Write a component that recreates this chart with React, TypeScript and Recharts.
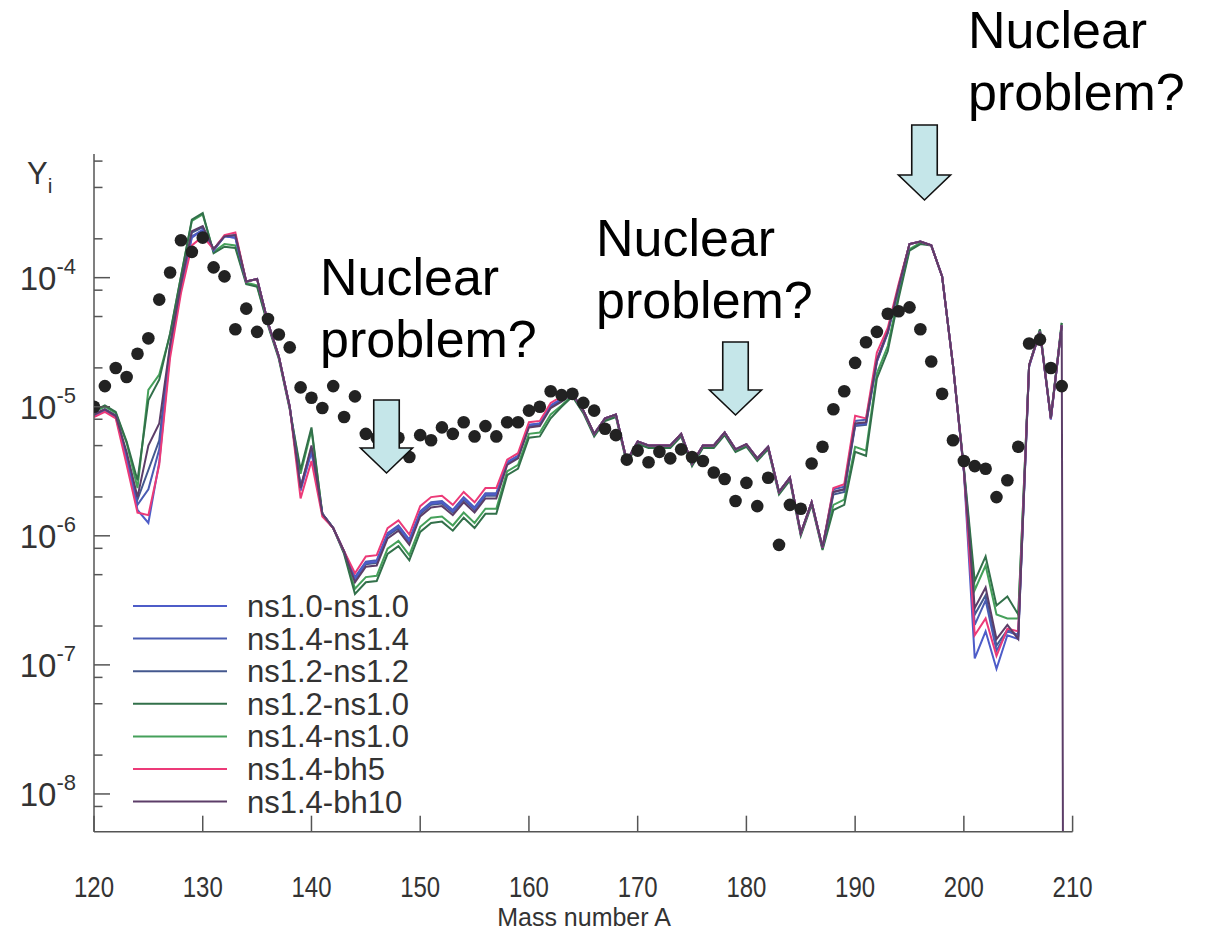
import React from 'react';
import { ComposedChart, Line, Scatter, XAxis, YAxis } from 'recharts';

// mass number A (the last entry only carries the bh10 drop)
const MASS = [
  120, 121, 122, 123, 124, 125, 126, 127, 128, 129, 130, 131, 132, 133, 134, 135, 136, 137, 138, 139,
  140, 141, 142, 143, 144, 145, 146, 147, 148, 149, 150, 151, 152, 153, 154, 155, 156, 157, 158, 159,
  160, 161, 162, 163, 164, 165, 166, 167, 168, 169, 170, 171, 172, 173, 174, 175, 176, 177, 178, 179,
  180, 181, 182, 183, 184, 185, 186, 187, 188, 189, 190, 191, 192, 193, 194, 195, 196, 197, 198, 199,
  200, 201, 202, 203, 204, 205, 206, 207, 208, 209, 210,
];

// all abundances below are log10(Y)
const SOLAR = [
  -5.0, -4.84, -4.7, -4.77, -4.59, -4.47, -4.17, -3.96, -3.71, -3.8, -3.69, -3.92, -3.99, -4.4, -4.24, -4.42, -4.32, -4.44, -4.54, -4.85,
  -4.93, -5.01, -4.84, -5.08, -4.92, -5.21, -5.24, -5.3, -5.24, -5.39, -5.22, -5.26, -5.16, -5.21, -5.12, -5.23, -5.15, -5.23, -5.12, -5.12,
  -5.03, -5.0, -4.88, -4.91, -4.9, -4.97, -5.03, -5.17, -5.22, -5.41, -5.34, -5.43, -5.35, -5.4, -5.33, -5.39, -5.42, -5.51, -5.56, -5.73,
  -5.59, -5.77, -5.55, -6.07, -5.76, -5.79, -5.44, -5.31, -5.02, -4.88, -4.66, -4.5, -4.42, -4.28, -4.26, -4.23, -4.4, -4.65, -4.9, -5.26,
  -5.42, -5.46, -5.48, -5.7, -5.57, -5.31, -4.51, -4.48, -4.7, -4.84,
];

const NS10_NS10 = [
  -5.07, -5.03, -5.08, -5.4, -5.8, -5.9, -5.43, -4.57, -4.09, -3.69, -3.63, -3.79, -3.68, -3.69, -4.03, -4.01, -4.35, -4.61, -5.0, -5.65,
  -5.35, -5.83, -5.94, -6.12, -6.33, -6.21, -6.2, -5.99, -5.93, -6.04, -5.82, -5.75, -5.74, -5.81, -5.71, -5.79, -5.68, -5.68, -5.43, -5.38,
  -5.14, -5.13, -4.99, -4.94, -4.9, -5.03, -5.21, -5.09, -5.06, -5.42, -5.27, -5.3, -5.3, -5.3, -5.21, -5.44, -5.3, -5.3, -5.2, -5.33,
  -5.29, -5.4, -5.31, -5.66, -5.55, -5.98, -5.74, -6.09, -5.66, -5.64, -5.14, -5.13, -4.65, -4.43, -4.07, -3.74, -3.72, -3.75, -3.99, -4.68,
  -5.5, -6.95, -6.74, -7.03, -6.77, -6.8, -4.69, -4.42, -5.1, -4.37,
];

const NS14_NS14 = [
  -5.06, -5.02, -5.07, -5.38, -5.76, -5.64, -5.33, -4.55, -4.07, -3.68, -3.63, -3.78, -3.68, -3.69, -4.03, -4.01, -4.35, -4.61, -5.0, -5.63,
  -5.34, -5.83, -5.94, -6.12, -6.32, -6.2, -6.19, -5.98, -5.92, -6.03, -5.81, -5.74, -5.73, -5.8, -5.7, -5.78, -5.67, -5.67, -5.43, -5.38,
  -5.14, -5.13, -4.99, -4.94, -4.9, -5.03, -5.21, -5.09, -5.06, -5.42, -5.27, -5.3, -5.3, -5.3, -5.21, -5.44, -5.3, -5.3, -5.2, -5.33,
  -5.29, -5.4, -5.31, -5.66, -5.55, -5.98, -5.74, -6.09, -5.64, -5.62, -5.11, -5.1, -4.63, -4.42, -4.07, -3.74, -3.72, -3.75, -3.99, -4.68,
  -5.49, -6.69, -6.5, -6.89, -6.74, -6.77, -4.68, -4.42, -5.09, -4.37,
];

const NS12_NS12 = [
  -5.06, -5.02, -5.07, -5.37, -5.72, -5.49, -5.26, -4.53, -4.06, -3.65, -3.61, -3.78, -3.68, -3.67, -4.03, -4.01, -4.35, -4.61, -5.0, -5.62,
  -5.32, -5.83, -5.94, -6.12, -6.34, -6.22, -6.21, -6.0, -5.94, -6.05, -5.83, -5.76, -5.75, -5.82, -5.72, -5.8, -5.69, -5.69, -5.44, -5.39,
  -5.15, -5.14, -5.0, -4.95, -4.9, -5.03, -5.21, -5.09, -5.06, -5.42, -5.27, -5.3, -5.3, -5.3, -5.21, -5.44, -5.3, -5.3, -5.2, -5.33,
  -5.29, -5.4, -5.31, -5.66, -5.55, -5.98, -5.74, -6.09, -5.68, -5.66, -5.15, -5.14, -4.65, -4.42, -4.07, -3.74, -3.72, -3.75, -3.99, -4.68,
  -5.49, -6.61, -6.46, -6.85, -6.73, -6.77, -4.68, -4.42, -5.09, -4.37,
];

const NS12_NS10 = [
  -5.03, -4.99, -5.04, -5.27, -5.57, -4.95, -4.79, -4.43, -3.99, -3.55, -3.5, -3.81, -3.76, -3.77, -4.05, -4.07, -4.37, -4.63, -5.02, -5.49,
  -5.16, -5.83, -5.94, -6.14, -6.45, -6.36, -6.35, -6.14, -6.08, -6.19, -5.97, -5.9, -5.89, -5.96, -5.86, -5.94, -5.83, -5.83, -5.53, -5.48,
  -5.24, -5.23, -5.09, -5.0, -4.92, -5.05, -5.23, -5.11, -5.08, -5.44, -5.29, -5.32, -5.32, -5.32, -5.23, -5.46, -5.32, -5.32, -5.22, -5.35,
  -5.31, -5.42, -5.33, -5.68, -5.57, -6.0, -5.76, -6.11, -5.8, -5.76, -5.35, -5.38, -4.78, -4.57, -4.16, -3.79, -3.74, -3.75, -3.99, -4.68,
  -5.47, -6.35, -6.16, -6.54, -6.47, -6.61, -4.68, -4.4, -5.09, -4.35,
];

const NS14_NS10 = [
  -5.04, -5.0, -5.05, -5.28, -5.63, -4.87, -4.75, -4.44, -3.99, -3.56, -3.51, -3.8, -3.74, -3.75, -4.04, -4.06, -4.36, -4.62, -5.01, -5.52,
  -5.18, -5.83, -5.94, -6.13, -6.41, -6.32, -6.31, -6.1, -6.04, -6.15, -5.93, -5.86, -5.85, -5.92, -5.82, -5.9, -5.79, -5.79, -5.5, -5.45,
  -5.21, -5.2, -5.06, -4.99, -4.91, -5.04, -5.22, -5.1, -5.07, -5.43, -5.28, -5.31, -5.31, -5.31, -5.22, -5.45, -5.31, -5.31, -5.21, -5.34,
  -5.3, -5.41, -5.32, -5.67, -5.56, -5.99, -5.75, -6.1, -5.76, -5.72, -5.31, -5.34, -4.74, -4.53, -4.13, -3.78, -3.73, -3.75, -3.99, -4.68,
  -5.48, -6.42, -6.23, -6.61, -6.64, -6.64, -4.68, -4.4, -5.08, -4.35,
];

const NS14_BH5 = [
  -5.08, -5.04, -5.09, -5.45, -5.82, -5.84, -5.45, -4.62, -4.12, -3.75, -3.68, -3.78, -3.67, -3.65, -4.03, -4.01, -4.35, -4.61, -5.0, -5.71,
  -5.42, -5.85, -5.94, -6.12, -6.29, -6.16, -6.15, -5.94, -5.88, -5.99, -5.77, -5.7, -5.69, -5.76, -5.66, -5.74, -5.63, -5.63, -5.41, -5.36,
  -5.12, -5.11, -4.97, -4.92, -4.9, -5.03, -5.21, -5.09, -5.06, -5.42, -5.27, -5.3, -5.3, -5.3, -5.21, -5.44, -5.3, -5.3, -5.2, -5.33,
  -5.29, -5.4, -5.31, -5.66, -5.55, -5.98, -5.74, -6.09, -5.63, -5.6, -5.07, -5.09, -4.58, -4.39, -4.05, -3.74, -3.72, -3.75, -3.99, -4.68,
  -5.49, -6.77, -6.64, -6.93, -6.72, -6.74, -4.68, -4.42, -5.09, -4.37,
];

// last value: the drop at the end of the bh10 run
const NS14_BH10 = [
  -5.06, -5.02, -5.07, -5.35, -5.7, -5.3, -5.13, -4.52, -4.05, -3.64, -3.6, -3.78, -3.68, -3.67, -4.03, -4.01, -4.35, -4.61, -5.0, -5.63,
  -5.3, -5.83, -5.94, -6.12, -6.36, -6.24, -6.23, -6.02, -5.96, -6.07, -5.85, -5.78, -5.77, -5.84, -5.74, -5.82, -5.71, -5.71, -5.45, -5.4,
  -5.16, -5.15, -5.01, -4.96, -4.9, -5.03, -5.21, -5.09, -5.06, -5.42, -5.27, -5.3, -5.3, -5.3, -5.21, -5.44, -5.3, -5.3, -5.2, -5.33,
  -5.29, -5.4, -5.31, -5.66, -5.55, -5.98, -5.74, -6.09, -5.66, -5.64, -5.13, -5.12, -4.64, -4.42, -4.07, -3.74, -3.72, -3.75, -3.99, -4.68,
  -5.49, -6.56, -6.4, -6.8, -6.69, -6.8, -4.68, -4.42, -5.09, -4.37, -40,
];

const SERIES = [
  { key: 's1', name: 'ns1.0-ns1.0', color: '#4d5cc8', values: NS10_NS10 },
  { key: 's2', name: 'ns1.4-ns1.4', color: '#4a5cb2', values: NS14_NS14 },
  { key: 's3', name: 'ns1.2-ns1.2', color: '#44588e', values: NS12_NS12 },
  { key: 's4', name: 'ns1.2-ns1.0', color: '#32704a', values: NS12_NS10 },
  { key: 's5', name: 'ns1.4-ns1.0', color: '#45a05a', values: NS14_NS10 },
  { key: 's6', name: 'ns1.4-bh5', color: '#ec3a78', values: NS14_BH5 },
  { key: 's7', name: 'ns1.4-bh10', color: '#5c3d68', values: NS14_BH10 },
];
const DRAW_ORDER = ['s5', 's4', 's3', 's2', 's1', 's6', 's7'];

const X_TICKS = [120, 130, 140, 150, 160, 170, 180, 190, 200, 210];
const Y_TICKS = [
  8e-9, 1e-8, 2e-8, 5e-8, 8e-8, 1e-7, 2e-7, 5e-7, 8e-7, 1e-6, 2e-6, 5e-6, 8e-6,
  1e-5, 2e-5, 5e-5, 8e-5, 1e-4, 2e-4, 5e-4, 8e-4,
];
const Y_DOMAIN: [number, number] = [5.1e-9, 9.08e-4];

const ANNOTATIONS = [
  { x: 320, y: 295, lines: ['Nuclear', 'problem?'] },
  { x: 596, y: 256, lines: ['Nuclear', 'problem?'] },
  { x: 968, y: 48, lines: ['Nuclear', 'problem?'] },
];
const ARROWS = [
  { cx: 386.5, top: 400, tip: 473 },
  { cx: 735.5, top: 342, tip: 415 },
  { cx: 924.5, top: 125, tip: 200 },
];

const PLOT = { left: 94, top: 154, right: 1072.6, bottom: 831.7 };
const AXIS_COLOR = '#555';
const TEXT = '#333';
const FONT = '"Liberation Sans", Arial, Helvetica, sans-serif';

const rows = MASS.map((A, i) => {
  const row: Record<string, number | null> = { A };
  SERIES.forEach((s) => {
    row[s.key] = s.values[i] === undefined ? null : Math.pow(10, s.values[i]);
  });
  return row;
});
const solarRows = SOLAR.map((v, i) => ({ A: MASS[i], solar: Math.pow(10, v) }));

const isMajor = (v: number) => Math.abs(Math.log10(v) - Math.round(Math.log10(v))) < 1e-6;

function LeftTick(props: any) {
  const { y, payload } = props;
  const v = payload.value as number;
  const major = isMajor(v);
  return (
    <g>
      <line x1={PLOT.left} x2={PLOT.left + (major ? 16 : 8.5)} y1={y} y2={y} stroke={AXIS_COLOR} strokeWidth={1.5} />
      {major && (
        <text x={PLOT.left - 18} y={y + 12} textAnchor="end" fill={TEXT} fontFamily={FONT}>
          <tspan fontSize={33}>10</tspan>
          <tspan fontSize={22} dy={-16}>{`-${Math.abs(Math.round(Math.log10(v)))}`}</tspan>
        </text>
      )}
    </g>
  );
}

function RightTick(props: any) {
  const { y, payload } = props;
  const major = isMajor(payload.value);
  return (
    <line x1={PLOT.right} x2={PLOT.right - (major ? 15 : 8)} y1={y} y2={y} stroke={AXIS_COLOR} strokeWidth={1.5} />
  );
}

function BottomTick(props: any) {
  const { x, payload } = props;
  return (
    <g>
      <line x1={x} x2={x} y1={PLOT.bottom} y2={PLOT.bottom - 16} stroke={AXIS_COLOR} strokeWidth={1.5} />
      <text
        transform={`translate(${x},897) scale(0.8,1)`}
        textAnchor="middle"
        fontSize={30}
        fill={TEXT}
        fontFamily={FONT}
      >
        {payload.value}
      </text>
    </g>
  );
}

function TopTick(props: any) {
  const { x } = props;
  return <line x1={x} x2={x} y1={PLOT.top} y2={PLOT.top + 8.5} stroke={AXIS_COLOR} strokeWidth={1.5} />;
}

function Dot(props: any) {
  if (props.cx == null || props.cy == null) return null;
  return <circle cx={props.cx} cy={props.cy} r={6.3} fill="#222" />;
}

function Overlay() {
  return (
    <svg width={1209} height={932} style={{ position: 'absolute', left: 0, top: 0, pointerEvents: 'none' }}>
      <text x={27} y={184} fontSize={31} fill={TEXT} fontFamily={FONT}>
        Y<tspan fontSize={21} dy={9}>i</tspan>
      </text>
      <text x={584} y={926} textAnchor="middle" fontSize={25} fill={TEXT} fontFamily={FONT}>
        Mass number A
      </text>

      {SERIES.map((s, i) => (
        <g key={s.key}>
          <line x1={133} x2={227} y1={606 + i * 32.6} y2={606 + i * 32.6} stroke={s.color} strokeWidth={2} />
          <text x={247} y={606 + i * 32.6 + 11} fontSize={31} fill={TEXT} fontFamily={FONT}>
            {s.name}
          </text>
        </g>
      ))}

      {ARROWS.map((a, i) => {
        const sw = 12.75;
        const hw = 26;
        const hy = a.tip - 25;
        const d = `M${a.cx - sw},${a.top} L${a.cx + sw},${a.top} L${a.cx + sw},${hy} L${a.cx + hw},${hy} L${a.cx},${a.tip} L${a.cx - hw},${hy} L${a.cx - sw},${hy} Z`;
        return <path key={i} d={d} fill="#c5e6e9" stroke="#111" strokeWidth={1.6} strokeLinejoin="miter" />;
      })}

      {ANNOTATIONS.map((n, i) => (
        <g key={i}>
          {n.lines.map((t, j) => (
            <text key={j} x={n.x} y={n.y + j * 62} fontSize={52} fill="#000" fontFamily={FONT}>
              {t}
            </text>
          ))}
        </g>
      ))}
    </svg>
  );
}

export default function App() {
  const axisLine = { stroke: AXIS_COLOR, strokeWidth: 1.5 };
  return (
    <div style={{ position: 'absolute', left: 0, top: 0, width: 1209, height: 932, background: '#fff' }}>
      <ComposedChart width={1209} height={932} data={rows} margin={{ top: 154, right: 136.4, bottom: 0, left: 0 }}>
        <XAxis
          xAxisId="b"
          dataKey="A"
          type="number"
          domain={[120, 210]}
          ticks={X_TICKS}
          interval={0}
          height={100.3}
          axisLine={axisLine}
          tickLine={false}
          tickSize={0}
          tick={BottomTick}
          allowDataOverflow
        />
        <XAxis
          xAxisId="t"
          orientation="top"
          dataKey="A"
          type="number"
          domain={[120, 210]}
          ticks={X_TICKS}
          interval={0}
          height={0}
          axisLine={axisLine}
          tickLine={false}
          tickSize={0}
          tick={TopTick}
          allowDataOverflow
        />
        <YAxis
          yAxisId="l"
          type="number"
          scale="log"
          domain={Y_DOMAIN}
          ticks={Y_TICKS}
          interval={0}
          width={94}
          axisLine={axisLine}
          tickLine={false}
          tickSize={0}
          tick={LeftTick}
          allowDataOverflow
        />
        <YAxis
          yAxisId="r"
          orientation="right"
          type="number"
          scale="log"
          domain={Y_DOMAIN}
          ticks={Y_TICKS}
          interval={0}
          width={0}
          axisLine={axisLine}
          tickLine={false}
          tickSize={0}
          tick={RightTick}
          allowDataOverflow
        />
        <Scatter
          xAxisId="b"
          yAxisId="l"
          data={solarRows}
          dataKey="solar"
          shape={Dot}
          legendType="none"
          isAnimationActive={false}
        />
        {DRAW_ORDER.map((k) => {
          const s = SERIES.find((x) => x.key === k)!;
          return (
            <Line
              key={k}
              xAxisId="b"
              yAxisId="l"
              type="linear"
              dataKey={k}
              name={s.name}
              stroke={s.color}
              strokeWidth={2}
              dot={false}
              activeDot={false}
              isAnimationActive={false}
            />
          );
        })}
      </ComposedChart>
      <Overlay />
    </div>
  );
}
